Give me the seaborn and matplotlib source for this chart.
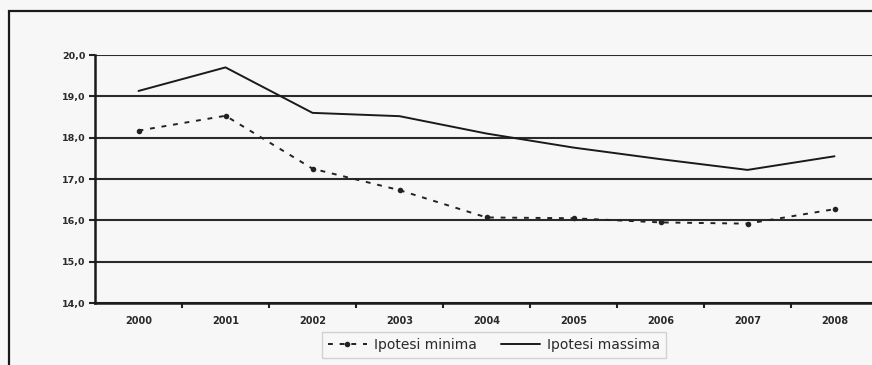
import matplotlib
matplotlib.use("Agg")
import matplotlib.pyplot as plt
import seaborn as sns
import pandas as pd
from matplotlib.patches import Rectangle
from matplotlib.lines import Line2D
from matplotlib.ticker import FixedLocator, FuncFormatter

years = ["2000", "2001", "2002", "2003", "2004", "2005", "2006", "2007", "2008"]
ipotesi_minima = [18.17, 18.53, 17.25, 16.73, 16.07, 16.05, 15.95, 15.92, 16.27]
ipotesi_massima = [19.13, 19.70, 18.60, 18.52, 18.10, 17.76, 17.48, 17.22, 17.55]
y_ticks = [14.0, 15.0, 16.0, 17.0, 18.0, 19.0, 20.0]
label_min = "Ipotesi minima"
label_max = "Ipotesi massima"

sns.set_theme(style="white")
plt.rcParams["font.family"] = ["DejaVu Sans"]

bg = "#f7f7f8"
fig = plt.figure(figsize=(8.72, 3.65), dpi=100, facecolor=bg)
ax = fig.add_axes([95 / 872, 1 - 303 / 365, (878 - 95) / 872, (303 - 55) / 365])
ax.set_facecolor(bg)

df = pd.DataFrame({"anno": years, "min": ipotesi_minima, "max": ipotesi_massima})

sns.lineplot(data=df, x="anno", y="min", ax=ax, color="#222222", lw=1.4,
             linestyle=(0, (2.5, 3.5)), marker="o", markersize=4,
             markeredgewidth=0, sort=False)
sns.lineplot(data=df, x="anno", y="max", ax=ax, color="#1a1a1a", lw=1.4,
             sort=False)

ax.set_ylim(14, 20)
ax.set_xlim(-0.5, len(years) - 0.5)
ax.yaxis.set_major_locator(FixedLocator(y_ticks))
ax.yaxis.set_major_formatter(FuncFormatter(lambda v, p: f"{v:.1f}".replace(".", ",")))
ax.grid(axis="y", color="#2a2a2a", lw=1.5)
ax.grid(axis="x", visible=False)
ax.set_axisbelow(True)

ax.set_xticks(range(len(years)))
ax.set_xticklabels(years)
ax.set_xticks([i + 0.5 for i in range(len(years) - 1)], minor=True)
ax.tick_params(axis="x", which="major", length=0, pad=9, labelsize=7, colors="#2a2a2a")
ax.tick_params(axis="x", which="minor", length=3.5, width=1.5, color="#222222", direction="out", bottom=True)
ax.tick_params(axis="y", which="major", length=4, width=1.5, color="#222222", direction="out",
               left=True, pad=3, labelsize=6.8, labelcolor="#2a2a2a")
for lab in ax.get_xticklabels() + ax.get_yticklabels():
    lab.set_fontweight("bold")

ax.set_xlabel("")
ax.set_ylabel("")
for s in ["top", "right"]:
    ax.spines[s].set_visible(False)
for s in ["left", "bottom"]:
    ax.spines[s].set_color("#1a1a1a")
    ax.spines[s].set_linewidth(1.8)

# outer chart frame
fig.patches.append(Rectangle((9 / 872, -0.2), 1.2, 1 - 11 / 365 + 0.2, transform=fig.transFigure,
                             fill=False, edgecolor="#1a1a1a", lw=1.6, zorder=0))

handles = [
    Line2D([], [], color="#222222", lw=1.4, linestyle=(0, (2.5, 3.5)), marker="o",
           markersize=4, markeredgewidth=0),
    Line2D([], [], color="#1a1a1a", lw=1.4),
]
leg = fig.legend(handles, [label_min, label_max], ncol=2, loc="center",
                 bbox_to_anchor=(494 / 872, 1 - 345 / 365), frameon=True, fontsize=10,
                 handlelength=2.8, columnspacing=1.8, borderpad=0.4, handletextpad=0.5,
                 fancybox=False)
leg.get_frame().set_edgecolor("#c8c8c8")
leg.get_frame().set_facecolor(bg)
leg.get_frame().set_linewidth(1.0)
for t in leg.get_texts():
    t.set_color("#2a2a2a")

fig.savefig("out.png", dpi=100, facecolor=bg)
